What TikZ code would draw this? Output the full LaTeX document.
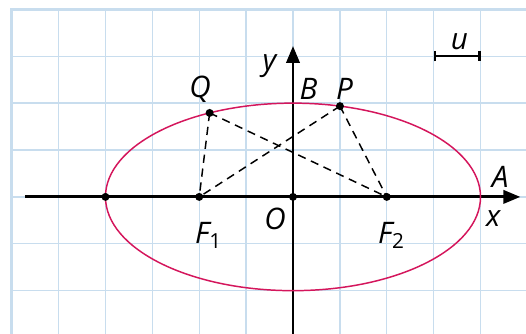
\documentclass[tikz,border=0pt]{standalone}
\usepackage{fontspec}
\setmainfont{Open Sans}
\usetikzlibrary{arrows.meta,positioning}
\definecolor{gridblue}{RGB}{200,221,238}
\definecolor{curvered}{RGB}{212,22,92}
\tikzset{
  base/.style={font=\fontsize{18}{21}\selectfont\itshape, inner sep=1pt, text=black},
  dot/.style={circle, fill=black, inner sep=0pt, minimum size=1.7mm},
  axis/.style={line width=1.8pt, -{Triangle[length=3.6mm,width=2.8mm]}},
  conic/.style={draw=curvered, line width=0.9pt},
  seg/.style={line width=0.9pt, dash pattern=on 5pt off 3.5pt},
  unitbar/.style={line width=1.5pt, {Bar[width=2.2mm]}-{Bar[width=2.2mm]}},
}
\begin{document}
\begin{tikzpicture}
  \useasboundingbox (-6.25,-2.92) rectangle (4.97,4.2);
  % grid
  \draw[gridblue, line width=0.8pt] (-6,-3) grid (5.2,4);
  \draw[gridblue, line width=1.6pt] (-6,-3) -- (-6,4) -- (5.2,4);
  % axes
  \coordinate (xs) at (-5.72,0);
  \coordinate (xe) at (4.85,0);
  \coordinate (ys) at (0,-3);
  \coordinate (ye) at (0,3.22);
  \draw[axis] (xs) -- (xe);
  \draw[axis] (ys) -- (ye);
  % ellipse
  \draw[conic] (0,0) ellipse [x radius=4, y radius=2];
  % points
  \node[dot] (vl) at (-4,0) {};
  \node[dot] (f1) at (-2,0) {};
  \node[dot] (o) at (0,0) {};
  \node[dot] (f2) at (2,0) {};
  \node[dot] (p) at (75.5:4 and 2) {};
  \node[dot] (q) at (116.4:4 and 2) {};
  \foreach \a/\b in {q/f1,q/f2,p/f1,p/f2}{\draw[seg] (\a.center) -- (\b.center);}
  % labels
  \node[base] (ql) at (-1.98,2.3) {Q};
  \node[base] (pl) at (1.1,2.3) {P};
  \node[base] (bl) at (0.33,2.3) {B};
  \node[base] (yl) at (-0.5,2.78) {y};
  \node[base] (al) at (4.42,0.42) {A};
  \node[base] (xl) at (4.27,-0.47) {x};
  \node[base] (ol) at (-0.38,-0.47) {O};
  \node[base] (f1l) at (-1.8,-0.82) {F\textsubscript{\upshape 1}};
  \node[base] (f2l) at (2.1,-0.82) {F\textsubscript{\upshape 2}};
  % unit
  \coordinate (u0) at (3,3);
  \coordinate (u1) at (4,3);
  \draw[unitbar] (u0) -- (u1);
  \node[base] (ul) at (3.55,3.32) {u};
\end{tikzpicture}
\end{document}
